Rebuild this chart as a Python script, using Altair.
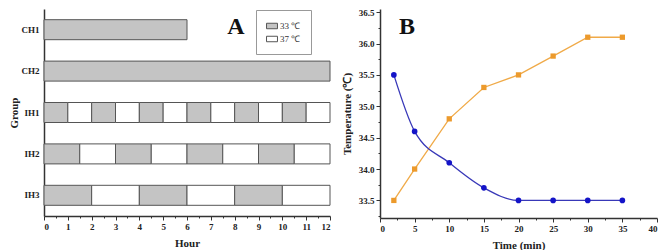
import altair as alt
import pandas as pd

# ---- Panel A data ----
groups = ["CH1", "CH2", "IH1", "IH2", "IH3"]
seg_group = (["CH1"] + ["CH2"] + ["IH1"] * 12 + ["IH2"] * 8 + ["IH3"] * 6)
seg_start = ([0] + [0] +
             [0, 1, 2, 3, 4, 5, 6, 7, 8, 9, 10, 11] +
             [0, 1.5, 3, 4.5, 6, 7.5, 9, 10.5] +
             [0, 2, 4, 6, 8, 10])
seg_end = ([6] + [12] +
           [1, 2, 3, 4, 5, 6, 7, 8, 9, 10, 11, 12] +
           [1.5, 3, 4.5, 6, 7.5, 9, 10.5, 12] +
           [2, 4, 6, 8, 10, 12])
seg_temp = (["33 ℃"] + ["33 ℃"] +
            ["33 ℃", "37 ℃"] * 6 +
            ["33 ℃", "37 ℃"] * 4 +
            ["33 ℃", "37 ℃"] * 3)
hour_ticks = [i * 0.5 for i in range(25)]

# ---- Panel B data ----
time_min = [2, 5, 10, 15, 20, 25, 30, 35]
cooling = [35.5, 34.6, 34.1, 33.7, 33.5, 33.5, 33.5, 33.5]
heating = [33.5, 34.0, 34.8, 35.3, 35.5, 35.8, 36.1, 36.1]
time_ticks = [i * 2.5 for i in range(17)]
temp_ticks = [33.25 + i * 0.25 for i in range(14)]

FONT = "Liberation Serif"
AXIS_COLOR = "#333333"

dfA = pd.DataFrame({"group": seg_group, "start": seg_start, "end": seg_end, "temp": seg_temp})

barsA = alt.Chart(dfA).mark_bar(stroke="#555555", strokeWidth=1, height=20).encode(
    y=alt.Y("group:N", sort=groups, title="Group",
            scale=alt.Scale(paddingInner=0.5, paddingOuter=0.25),
            axis=alt.Axis(ticks=False, labelFontWeight="bold", labelFontSize=9,
                          labelPadding=5, titleFontSize=11, titlePadding=2)),
    x=alt.X("start:Q", title="Hour",
            scale=alt.Scale(domain=[0, 12], nice=False),
            axis=alt.Axis(values=hour_ticks,
                          labelExpr="datum.value % 1 === 0 ? format(datum.value, 'd') : ''",
                          labelOverlap=False, labelFontWeight="bold", labelFontSize=9,
                          tickSize={"condition": {"test": "datum.value % 1 === 0", "value": 4}, "value": 2},
                          titleFontSize=11, titlePadding=6)),
    x2="end:Q",
    fill=alt.Fill("temp:N",
                  scale=alt.Scale(domain=["33 ℃", "37 ℃"], range=["#c4c4c4", "#ffffff"]),
                  legend=alt.Legend(title=None, orient="none", legendX=212, legendY=1,
                                    symbolType="M-1,-0.5H1V0.5H-1Z", symbolSize=120,
                                    symbolStrokeColor="#555555", symbolStrokeWidth=1,
                                    labelFont=FONT, labelFontSize=9, labelColor="#333333",
                                    fillColor="white", strokeColor="#999999",
                                    padding=10, rowPadding=2, labelOffset=2)),
)

labelA = alt.Chart(pd.DataFrame({"t": ["A"]})).mark_text(
    font=FONT, fontSize=24, fontWeight="bold", color="#111111"
).encode(x=alt.value(192), y=alt.value(18), text="t:N")

panelA = alt.layer(barsA, labelA).properties(width=286, height=207)

dfB = pd.DataFrame({
    "time": time_min * 2,
    "temp": cooling + heating,
    "series": ["cool"] * len(time_min) + ["heat"] * len(time_min),
})

xB = alt.X("time:Q", title="Time (min)",
           scale=alt.Scale(domain=[0, 40], nice=False),
           axis=alt.Axis(values=time_ticks,
                         labelExpr="datum.value % 5 === 0 ? format(datum.value, 'd') : ''",
                         labelOverlap=False, labelFontWeight="bold", labelFontSize=9,
                         tickSize={"condition": {"test": "datum.value % 5 === 0", "value": 4}, "value": 2},
                         titleFontSize=11, titlePadding=6))
yB = alt.Y("temp:Q", title="Temperature (℃)",
           scale=alt.Scale(domain=[33.22, 36.55], nice=False, zero=False),
           axis=alt.Axis(values=temp_ticks,
                         labelExpr="(datum.value * 100) % 50 === 0 ? format(datum.value, '.1f') : ''",
                         labelOverlap=False, labelFontWeight="bold", labelFontSize=9,
                         tickSize={"condition": {"test": "(datum.value * 100) % 50 === 0", "value": 4}, "value": 2},
                         titleFontSize=11, titlePadding=6))

baseB = alt.Chart(dfB)
coolLine = baseB.transform_filter("datum.series === 'cool'").mark_line(
    color="#3838b8", strokeWidth=1.3, interpolate="monotone").encode(x=xB, y=yB)
coolPts = baseB.transform_filter("datum.series === 'cool'").mark_point(
    shape="circle", filled=True, size=32, color="#1414c8", opacity=1).encode(x=xB, y=yB)
heatLine = baseB.transform_filter("datum.series === 'heat'").mark_line(
    color="#f0aa48", strokeWidth=1.3).encode(x=xB, y=yB)
heatPts = baseB.transform_filter("datum.series === 'heat'").mark_point(
    shape="square", filled=True, size=28, color="#ec9a2c", opacity=1).encode(x=xB, y=yB)

labelB = alt.Chart(pd.DataFrame({"t": ["B"]})).mark_text(
    font=FONT, fontSize=24, fontWeight="bold", color="#111111"
).encode(x=alt.value(27), y=alt.value(18), text="t:N")

panelB = alt.layer(heatLine, coolLine, heatPts, coolPts, labelB).properties(width=277, height=209)

chart = alt.hconcat(panelA, panelB, spacing=10).properties(
    padding={"left": 0, "top": 0, "right": 0, "bottom": 0}
).configure_view(stroke=None).configure_axis(
    labelFont=FONT, titleFont=FONT, labelColor="#222222", titleColor="#222222",
    titleFontWeight="bold", domainColor=AXIS_COLOR, domainWidth=1.5,
    tickColor=AXIS_COLOR, tickWidth=1, grid=False
)

chart.save("out.html", embed_options={"renderer": "svg", "actions": False})
